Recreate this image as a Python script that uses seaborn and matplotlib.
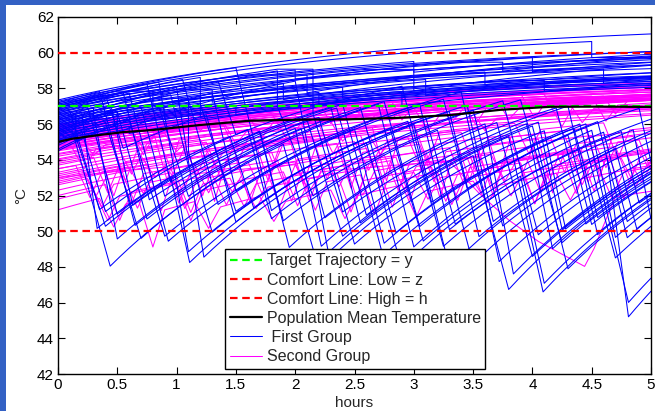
import numpy as np
import pandas as pd
import matplotlib
matplotlib.use("Agg")
import matplotlib.pyplot as plt
import seaborn as sns
from matplotlib.lines import Line2D
from matplotlib.patches import Rectangle

# ---------------------------------------------------------------- data
HOURS = 5.0

# Reference lines (deg C)
target_temp = 57.0
comfort_low = 50.0
comfort_high = 60.0

# Population mean temperature
mean_hours = [0.0, 0.12, 0.35, 0.55, 0.8, 1.2, 1.62, 2.04, 2.45, 2.87, 3.3, 3.73, 4.15, 4.57, 5.0]
mean_temp = [55.0, 55.18, 55.39, 55.55, 55.67, 55.95, 56.19, 56.25, 56.27, 56.35, 56.5, 56.8,
             56.97, 56.98, 56.96]

# First group, heaters with little hot-water use
# events: (start h, duration h, change deg C); duration 0 is an instant step
steady_rate = 0.35
steady_start = [57.35, 57.28, 57.2, 57.13, 57.06, 56.99, 56.92, 56.85, 56.78, 56.71, 56.64, 56.57,
                56.5, 56.43, 56.36, 56.29, 56.22, 56.15, 56.08, 56.01, 55.94, 55.87, 55.8, 55.73,
                55.66, 55.59, 55.52, 55.45, 55.38, 55.31, 55.24, 55.17, 55.1, 55.03]
steady_setpoint = [61.83, 61.5, 61.2, 60.9, 61.0, 60.7, 60.9, 60.5, 60.7, 60.3, 60.7, 60.2,
                   60.4, 59.9, 60.3, 59.7, 59.9, 59.5, 60.0, 59.4, 59.8, 59.3, 59.7, 59.2,
                   59.6, 59.1, 59.5, 59.0, 59.4, 58.9, 59.3, 58.8, 59.2, 58.7]
steady_events = [
    [], [(4.5, 0, -0.9), (4.5, 0.4, 0.0)],
    [(0.5, 0.3, 0.0), (0.8, 0, -0.8), (3.3, 0.45, 0.0), (3.75, 0, -0.5)],
    [(2.0, 0, -0.5)], [(1.6, 0.5, 0.0), (2.1, 0, -1.0)], [], [(3.0, 0, -0.6)],
    [(1.0, 0.3, 0.0), (1.3, 0, -0.7)], [(4.0, 0, -0.8)], [], [(2.6, 0.4, 0.0), (3.0, 0, -1.2)],
    [(0.3, 0, -0.5)], [], [(3.6, 0, -0.7)], [(1.9, 0, -0.9)], [], [(4.3, 0.3, 0.0), (4.6, 0, -0.8)],
    [(2.4, 0, -0.6)], [], [(1.2, 0, -0.8)], [(3.1, 0, -0.9)], [], [(0.9, 0, -0.6)], [],
    [(2.2, 0, -0.7)], [], [(3.8, 0.3, 0.0), (4.1, 0, -0.6)], [], [(1.5, 0, -0.5)], [],
    [(2.9, 0, -0.8)], [], [(0.6, 0, -0.4)], [],
]

# First group, heaters with large draws
drawn_rate = 0.5
drawn_start = [55.3, 56.2, 55.8, 56.6, 54.8, 57.0, 56.0, 55.5, 56.8, 54.5, 57.1, 55.9, 56.4, 55.1,
               56.9, 55.6, 56.3, 57.2, 54.9, 56.1, 55.7, 56.5, 55.4, 57.0, 56.2, 54.6, 56.7, 55.0,
               56.9, 55.6]
drawn_setpoint = [61.2, 61.0, 61.3, 61.0, 61.4, 60.9, 61.2, 61.0, 60.8, 61.3, 61.0, 61.1, 61.2, 61.4,
                  60.7, 61.0, 60.9, 61.1, 61.5, 60.8, 61.0, 60.9, 61.2, 61.0, 60.9, 61.4, 61.1, 61.3,
                  61.0, 61.2]
drawn_events = [
    [(0.12, 0.32, -7.6), (1.9, 0.3, -7.0), (3.5, 0.3, -7.5)],
    [(0.2, 0.13, -6.5), (0.95, 0.16, -4.8), (2.6, 0.3, -7.0), (3.9, 0.2, -6.0)],
    [(0.3, 0.2, -7.0), (2.0, 0.22, -6.6), (4.3, 0.25, -7.2)],
    [(0.6, 0.33, -8.3), (2.5, 0.25, -6.4), (4.45, 0.36, -10.0)],
    [(0.15, 0.25, -5.0), (1.7, 0.25, -6.5), (3.6, 0.24, -8.4)],
    [(0.85, 0.25, -9.5), (2.8, 0.28, -6.3), (4.6, 0.2, -5.0)],
    [(1.0, 0.23, -9.5), (3.0, 0.3, -8.0), (4.7, 0.18, -4.5)],
    [(0.5, 0, -1.2), (2.0, 0.28, -9.6), (3.8, 0.29, -8.7)],
    [(0.55, 0.22, -6.0), (2.2, 0.3, -7.1), (4.1, 0.18, -5.5)],
    [(1.3, 0.2, -5.5), (3.4, 0.32, -9.5)],
    [(1.5, 0.3, -8.0), (3.5, 0.25, -6.5), (4.63, 0.18, -8.9)],
    [(0.45, 0.18, -5.5), (2.4, 0.34, -8.5), (4.3, 0.2, -5.0)],
    [(0.25, 0.25, -6.0), (1.7, 0.2, -5.0), (3.2, 0.3, -7.5)],
    [(0.7, 0.2, -5.0), (2.1, 0.3, -6.5), (3.95, 0.22, -7.0)],
    [(1.2, 0, -1.5), (1.2, 0.3, -6.0), (3.1, 0.25, -6.0), (4.75, 0.15, -4.0)],
    [(0.95, 0.15, -4.0), (2.3, 0.25, -6.5), (4.0, 0.3, -8.0)],
    [(1.85, 0.3, 0.0), (2.15, 0, -2.5), (2.15, 0.25, -5.5), (4.2, 0.25, -6.5)],
    [(0.35, 0.3, -7.5), (2.05, 0.2, -5.0), (3.7, 0.3, -7.5)],
    [(0.4, 0.3, -6.5), (2.7, 0.3, -8.0), (4.5, 0.2, -6.0)],
    [(1.35, 0.15, -3.0), (2.9, 0.25, -6.5), (4.35, 0.2, -5.0)],
    [(0.8, 0.3, 0.0), (1.1, 0, -3.0), (1.1, 0.2, -4.5), (2.95, 0.3, -7.0), (4.85, 0.15, -5.0)],
    [(0.1, 0.25, -5.5), (1.45, 0.2, -4.0), (3.3, 0.25, -7.0)],
    [(0.5, 0.25, -6.0), (2.55, 0.3, -7.0), (4.4, 0.3, -7.5)],
    [(0.75, 0.2, -5.5), (2.35, 0.25, -6.0), (4.05, 0.2, -6.0)],
    [(0.15, 0, -1.5), (0.6, 0.3, -6.5), (3.05, 0.25, -7.0)],
    [(0.85, 0.25, -5.0), (2.75, 0.3, -7.0), (4.55, 0.25, -6.5)],
    [(1.05, 0.3, -7.0), (3.25, 0.2, -5.0), (4.9, 0.1, -3.0)],
    [(0.2, 0.2, -4.5), (1.6, 0.2, -5.0), (3.75, 0.3, -7.5)],
    [(0.4, 0.15, -3.0), (1.25, 0.25, -6.0), (3.45, 0.22, -6.5)],
    [(1.85, 0, -2.0), (1.85, 0.3, -5.0), (3.9, 0.35, -8.0)],
]

# Second group, smooth heaters
band_rate = 0.3
band_start = [56.0, 55.95, 55.9, 55.85, 55.8, 55.75, 55.7, 55.65, 55.6, 55.55, 55.5, 55.45,
              55.4, 55.35, 55.3, 55.25, 55.2, 55.15, 55.1, 55.05, 55.0, 54.95, 54.9, 54.85,
              54.8, 54.75, 54.7, 54.65, 54.6, 54.55, 54.5, 54.35, 54.2, 54.05, 53.9, 53.7,
              53.5, 53.3, 53.1, 52.9, 52.7]
band_setpoint = [58.9, 58.6, 59.0, 58.4, 58.7, 58.9, 58.8, 58.5, 58.6, 58.8, 58.9, 58.3,
                 58.5, 58.7, 58.8, 58.4, 58.7, 58.6, 58.4, 58.7, 58.6, 58.3, 58.5, 58.8,
                 58.3, 58.6, 58.7, 58.2, 58.5, 58.4, 58.2, 58.4, 58.1, 58.3, 58.0, 58.2,
                 57.9, 58.1, 57.8, 57.9, 57.7]
band_events = [
    [], [(2.2, 0.1, -1.2), (2.3, 0.1, 0.8)], [], [(3.4, 0.12, -1.5), (3.52, 0.1, 1.0)],
    [(0.4, 0.1, -0.9), (0.5, 0.1, 0.6)], [(1.1, 0.1, -1.0), (1.2, 0.1, 0.7)], [],
    [(4.1, 0.15, -1.8), (4.25, 0.1, 1.2)], [(2.7, 0.1, -1.1), (2.8, 0.1, 0.7)], [],
    [(2.8, 0.1, -1.2), (2.9, 0.1, 0.8)], [(1.6, 0.12, -1.3), (1.72, 0.1, 0.9)],
    [(0.6, 0.12, -1.3), (0.72, 0.1, 0.9)], [], [(3.9, 0.12, -1.4), (4.02, 0.1, 1.0)],
    [(3.7, 0.1, -1.1), (3.8, 0.1, 0.7)], [], [(1.8, 0.15, -1.6), (1.95, 0.1, 1.1)],
    [(4.6, 0.1, -1.0), (4.7, 0.1, 0.7)], [(2.5, 0.1, -1.0), (2.6, 0.1, 0.7)], [],
    [(0.2, 0.1, -0.9), (0.3, 0.1, 0.6)], [(4.5, 0.12, -1.4), (4.62, 0.1, 0.9)],
    [(3.2, 0.12, -1.2), (3.32, 0.1, 0.8)], [], [(1.4, 0.1, -1.2), (1.5, 0.1, 0.8)],
    [(2.0, 0.1, -1.0), (2.1, 0.1, 0.7)], [], [(3.0, 0.12, -1.3), (3.12, 0.1, 0.9)],
    [(0.9, 0.1, -1.0), (1.0, 0.1, 0.7)], [], [(4.3, 0.12, -1.2), (4.42, 0.1, 0.8)],
    [(2.3, 0.1, -1.1), (2.4, 0.1, 0.7)], [], [(1.2, 0.12, -1.4), (1.32, 0.1, 0.9)],
    [(3.5, 0.1, -1.0), (3.6, 0.1, 0.7)], [], [(0.7, 0.12, -1.2), (0.82, 0.1, 0.8)],
    [], [(2.6, 0.12, -1.3), (2.72, 0.1, 0.9)], [],
]

# Second group, frequent short draws: (time h, depth deg C) of each dip
zig_rate = 0.3
zig_start = [51.2, 52.3, 53.2, 52.0, 53.8, 52.8, 54.3, 53.5, 54.6, 52.6, 55.0, 54.0,
             55.3, 54.8, 53.0, 51.8]
zig_setpoint = [57.6, 57.5, 57.7, 57.4, 57.8, 57.5, 57.9, 57.6, 58.0, 57.4, 58.1, 57.8,
                58.2, 58.0, 57.6, 57.5]
zig_dips = [
    [(0.35, 1.6), (0.68, 2.6), (1.15, 1.5), (1.7, 1.4), (2.3, 1.6), (2.9, 1.8), (3.5, 1.2), (4.2, 1.5)],
    [(0.55, 1.8), (1.0, 2.0), (1.45, 1.6), (2.05, 2.0), (2.55, 2.2), (3.2, 1.8), (3.9, 2.0), (4.55, 1.8)],
    [(0.2, 1.5), (0.9, 2.2), (1.6, 1.8), (2.4, 2.4), (2.8, 1.6), (3.45, 2.0), (4.3, 1.8)],
    [(0.4, 2.0), (1.3, 1.7), (1.9, 1.9), (2.7, 2.3), (3.0, 1.5), (3.7, 1.6), (4.8, 1.5)],
    [(0.3, 2.0), (1.1, 2.4), (1.8, 2.0), (2.6, 2.2), (3.3, 2.0), (4.0, 2.4), (4.7, 2.0)],
    [(0.75, 2.6), (1.35, 1.5), (2.0, 2.2), (2.85, 2.4), (3.55, 1.8), (4.25, 2.2)],
    [(0.5, 1.6), (1.25, 2.0), (2.15, 2.3), (2.95, 1.9), (3.8, 2.1), (4.5, 1.8)],
    [(0.15, 1.8), (0.6, 1.5), (1.5, 2.5), (2.25, 1.7), (3.1, 2.6), (3.65, 1.5), (4.4, 2.3)],
    [(0.45, 2.2), (1.05, 1.8), (1.95, 2.6), (2.5, 1.6), (3.35, 2.4), (4.15, 2.0), (4.85, 1.7)],
    [(0.25, 1.6), (0.95, 2.0), (1.75, 2.2), (2.45, 1.7), (3.25, 2.3), (3.95, 1.9), (4.65, 2.4)],
    [(0.8, 2.8), (1.7, 2.0), (2.65, 3.0), (3.6, 2.5), (4.45, 2.7)],
    [(0.35, 2.4), (1.2, 2.9), (2.35, 2.5), (3.05, 2.1), (4.05, 3.0), (4.9, 2.0)],
    [(0.6, 1.5), (1.4, 2.0), (2.2, 1.6), (3.0, 2.2), (3.85, 1.7), (4.6, 2.0)],
    [(0.1, 1.4), (0.85, 1.9), (1.65, 2.4), (2.55, 1.8), (3.4, 2.1), (4.25, 1.6)],
    [(0.5, 2.1), (1.15, 1.6), (1.85, 2.3), (2.75, 2.0), (3.55, 2.5), (4.35, 1.8)],
    [(0.3, 1.7), (1.0, 2.1), (1.55, 1.5), (2.35, 2.2), (3.15, 1.9), (3.9, 2.3), (4.75, 1.6)],
]

# Second group, one heater with a long slow draw late in the period
slow_start = [53.0]
slow_setpoint = [55.5]
slow_events = [[(0.9, 0.12, -1.4), (1.02, 0.1, 1.0), (2.0, 0.12, -1.5), (2.12, 0.1, 1.1),
                (3.3, 0.25, -1.8), (3.55, 0.25, -1.5), (3.8, 0.25, -1.2), (4.05, 0.25, -0.9),
                (4.3, 0.14, -0.5), (4.44, 0.08, 1.0), (4.52, 0.08, 1.3), (4.6, 0.1, 1.6)]]


# ---------------------------------------------------------------- trajectories
def trajectory(start, setpoint, rate, events):
    """Exponential heating towards the set-point, interrupted by linear draw events."""
    ts, temps = [0.0], [start]
    t, temp = 0.0, start

    def heat(t0, t1, temp0):
        seg = np.linspace(t0, t1, max(2, int((t1 - t0) / 0.02) + 1))[1:]
        vals = setpoint - (setpoint - temp0) * np.exp(-rate * (seg - t0))
        ts.extend(seg)
        temps.extend(vals)
        return vals[-1]

    for (t_ev, dur, change) in sorted(events, key=lambda e: e[0]):
        if t_ev > t:
            temp = heat(t, t_ev, temp)
            t = t_ev
        t, temp = t + dur, temp + change
        ts.append(t)
        temps.append(temp)
    if t < HOURS:
        heat(t, HOURS, temp)
    return ts, temps


def dips_to_events(dips):
    events = []
    for t, depth in dips:
        events.append((t, 0.12, -depth))
        events.append((t + 0.12, 0.1, 0.8 * depth))
    return events


def group_frame(starts, setpoints, events, rate, offset=0):
    rows = []
    for i, (s, sp, ev) in enumerate(zip(starts, setpoints, events)):
        ts, temps = trajectory(s, sp, rate, ev)
        rows.append(pd.DataFrame({"hours": ts, "temp": temps, "unit": offset + i}))
    return pd.concat(rows, ignore_index=True)


first_df = pd.concat([
    group_frame(steady_start, steady_setpoint, steady_events, steady_rate, 0),
    group_frame(drawn_start, drawn_setpoint, drawn_events, drawn_rate, 100),
], ignore_index=True)
second_df = pd.concat([
    group_frame(band_start, band_setpoint, band_events, band_rate, 0),
    group_frame(zig_start, zig_setpoint, [dips_to_events(d) for d in zig_dips], zig_rate, 100),
    group_frame(slow_start, slow_setpoint, slow_events, band_rate, 200),
], ignore_index=True)
mean_df = pd.DataFrame({"hours": mean_hours, "temp": mean_temp})

# ---------------------------------------------------------------- style
sns.set_style("ticks", {"xtick.direction": "in", "ytick.direction": "in"})
plt.rcParams["font.family"] = ["Liberation Sans", "DejaVu Sans"]
plt.rcParams["font.size"] = 11

BLUE = "#0000FF"
MAGENTA = "#FF00FF"
GREEN = "#00FF00"
RED = "#FF0000"

fig = plt.figure(figsize=(6.55, 4.11), dpi=100)
fig.patch.set_facecolor("white")
ax = fig.add_axes([58 / 655, 37 / 411, 593 / 655, 357 / 411])

sns.lineplot(data=second_df, x="hours", y="temp", units="unit", estimator=None, sort=False,
             color=MAGENTA, lw=0.75, ax=ax, legend=False)
sns.lineplot(data=first_df, x="hours", y="temp", units="unit", estimator=None, sort=False,
             color=BLUE, lw=0.75, ax=ax, legend=False)

dash = (3.4, 2.1)
ax.axhline(target_temp, color=GREEN, lw=1.6, dashes=dash, zorder=5)
ax.axhline(comfort_low, color=RED, lw=1.6, dashes=dash, zorder=5)
ax.axhline(comfort_high, color=RED, lw=1.6, dashes=dash, zorder=5)
sns.lineplot(data=mean_df, x="hours", y="temp", color="black", lw=1.6, ax=ax, zorder=6)

ax.set_xlim(0, 5)
ax.set_ylim(42, 62)
ax.set_xticks(np.arange(0, 5.01, 0.5))
ax.set_xticklabels(["0", "0.5", "1", "1.5", "2", "2.5", "3", "3.5", "4", "4.5", "5"])
ax.set_yticks(np.arange(42, 62.1, 2))
ax.tick_params(direction="in", top=True, right=True, length=5, width=0.8, labelsize=11,
               colors="black", pad=3)
for sp in ax.spines.values():
    sp.set_visible(True)
    sp.set_color("black")
    sp.set_linewidth(1.0)
ax.set_xlabel("hours", fontsize=11, labelpad=3)
ax.set_ylabel("°C", fontsize=11, labelpad=6)

handles = [
    Line2D([], [], color=GREEN, lw=1.6, dashes=dash),
    Line2D([], [], color=RED, lw=1.6, dashes=dash),
    Line2D([], [], color=RED, lw=1.6, dashes=dash),
    Line2D([], [], color="black", lw=1.6),
    Line2D([], [], color=BLUE, lw=0.75),
    Line2D([], [], color=MAGENTA, lw=0.75),
]
labels = ["Target Trajectory = y", "Comfort Line: Low = z", "Comfort Line: High = h",
          "Population Mean Temperature", " First Group", "Second Group"]
leg = ax.legend(handles, labels, loc="lower left", bbox_to_anchor=(0.2816, 0.014),
                borderaxespad=0, fontsize=11.5, handlelength=2.0, handletextpad=0.3,
                labelspacing=0.26, borderpad=0.3, fancybox=False, framealpha=1,
                edgecolor="black")
leg.get_frame().set_linewidth(1.0)
leg.set_zorder(10)

# window frame strips along the left and top edges
frame_color = "#3361C4"
fig.patches.append(Rectangle((0, 0), 6 / 655, 1, transform=fig.transFigure,
                             facecolor=frame_color, edgecolor="none", zorder=20))
fig.patches.append(Rectangle((0, 1 - 5 / 411), 1, 5 / 411, transform=fig.transFigure,
                             facecolor=frame_color, edgecolor="none", zorder=20))

fig.savefig("out.png", dpi=100)
